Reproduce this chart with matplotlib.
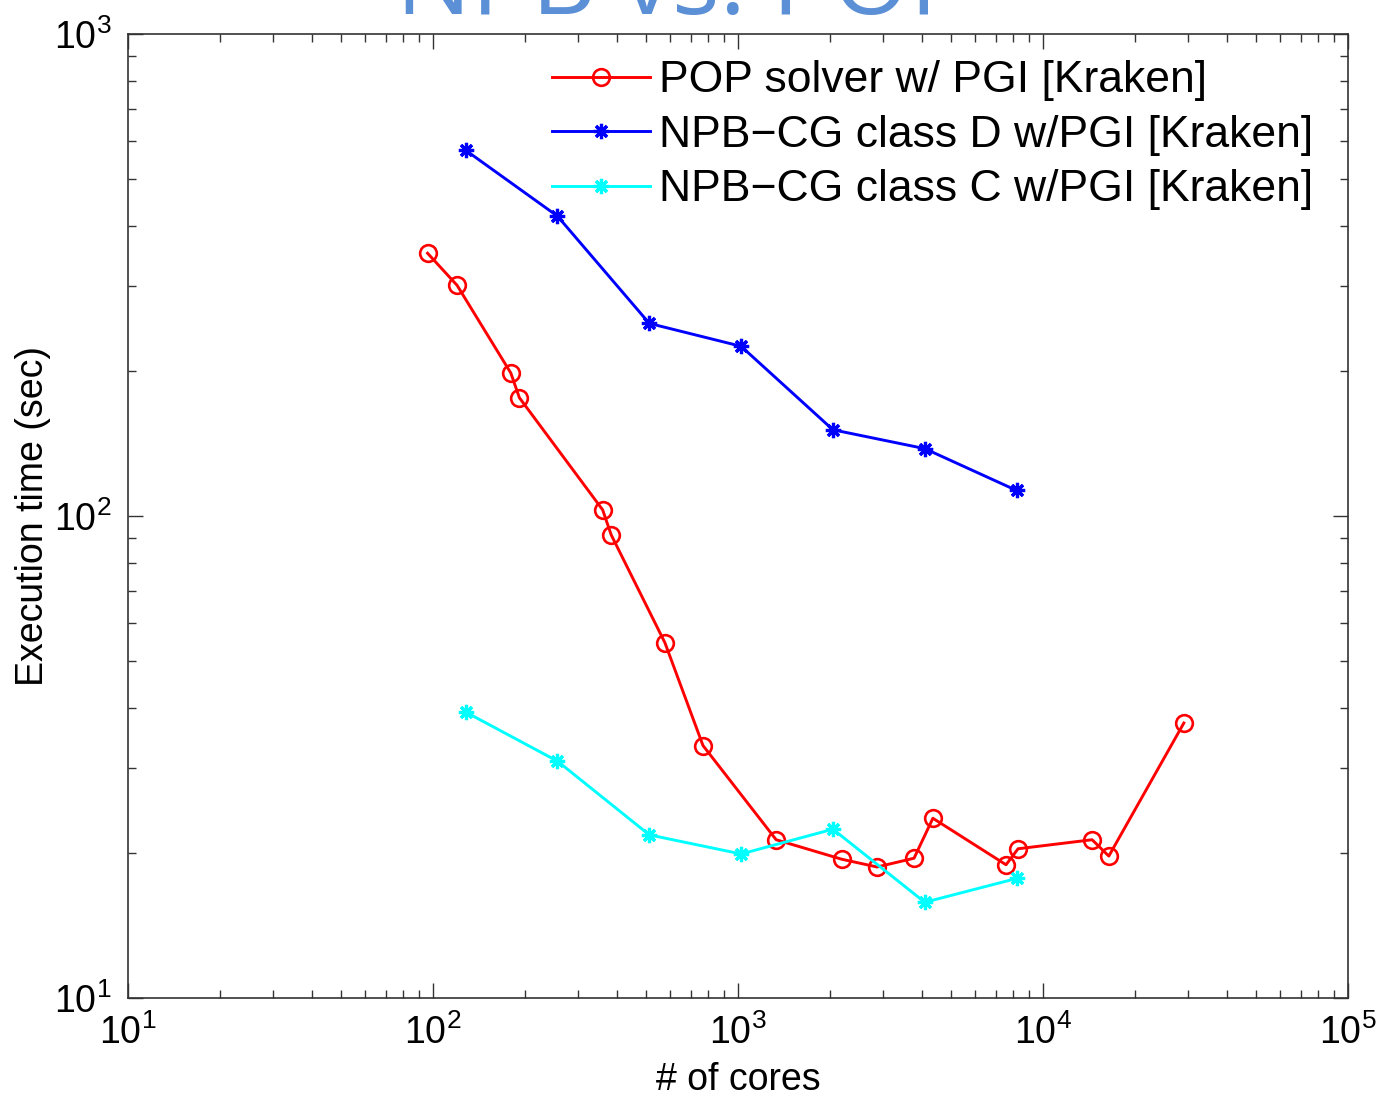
import matplotlib
matplotlib.use("Agg")
import matplotlib.pyplot as plt
from matplotlib.ticker import LogLocator, NullFormatter

pop_cores = [96, 120, 180, 192, 360, 384, 576, 768, 1334, 2193, 2858, 3778, 4356, 7566, 8284, 14490, 16440, 28970]
pop_time = [351, 301, 198, 176, 103, 91.4, 54.6, 33.4, 21.3, 19.4, 18.7, 19.5, 23.6, 18.9, 20.4, 21.3, 19.7, 37.2]

npb_cores = [128, 256, 512, 1024, 2048, 4096, 8192]
npb_d_time = [574, 419, 251, 225, 151, 138, 113]
npb_c_time = [39.2, 31.0, 21.8, 19.9, 22.4, 15.8, 17.7]

labels = ["POP solver w/ PGI [Kraken]",
          "NPB\u2212CG class D w/PGI [Kraken]",
          "NPB\u2212CG class C w/PGI [Kraken]"]
title = "NPB vs. POP"

plt.rcParams['font.family'] = ['Liberation Sans', 'DejaVu Sans']

fig = plt.figure(figsize=(13.79, 10.99), dpi=100)
ax = fig.add_axes([0.0928, 0.0919, 0.9775 - 0.0928, 0.969 - 0.0919])

ax.plot(pop_cores, pop_time, color='red', marker='o', mfc='none', mec='red',
        markersize=12, mew=1.9, lw=2.1, label=labels[0], zorder=6)
ax.plot(npb_cores, npb_d_time, color='blue', marker=(8, 2, 0), mfc='blue', mec='blue',
        markersize=11, mew=2.3, lw=2.1, label=labels[1], zorder=6)
ax.plot(npb_cores, npb_c_time, color='cyan', marker=(8, 2, 0), mfc='cyan', mec='cyan',
        markersize=11, mew=2.3, lw=2.1, label=labels[2], zorder=6)

ax.set_xscale('log')
ax.set_yscale('log')
ax.set_xlim(10, 1e5)
ax.set_ylim(10, 1000)

ax.xaxis.set_major_locator(LogLocator(base=10, numticks=10))
ax.yaxis.set_major_locator(LogLocator(base=10, numticks=10))
ax.xaxis.set_minor_locator(LogLocator(base=10, subs=range(2, 10), numticks=20))
ax.yaxis.set_minor_locator(LogLocator(base=10, subs=range(2, 10), numticks=20))
ax.xaxis.set_minor_formatter(NullFormatter())
ax.yaxis.set_minor_formatter(NullFormatter())

ax.tick_params(which='both', direction='in', top=True, right=True, labelsize=27, width=1.0, color='#333333')
ax.tick_params(which='major', length=11, pad=12)
ax.tick_params(which='minor', length=6)
for s in ax.spines.values():
    s.set_linewidth(1.2)
    s.set_color('#333333')

ax.set_xlabel("# of cores", fontsize=27)
ax.set_ylabel("Execution time (sec)", fontsize=27)
ax.xaxis.set_label_coords(0.5, -(1080 - 998) / 964)
ax.xaxis.label.set_va('center')
ax.yaxis.set_label_coords(-(128 - 33) / 1220, 0.5)
ax.yaxis.label.set_va('center')

leg = ax.legend(loc='upper left', bbox_to_anchor=(0.397, 0.949), bbox_transform=fig.transFigure,
                fontsize=32, frameon=True, handlelength=2.2, handletextpad=0.22,
                labelspacing=0.3, borderpad=0.1, borderaxespad=0.0, fancybox=False)
leg.get_frame().set_edgecolor('none')
leg.get_frame().set_facecolor('white')
leg.get_frame().set_alpha(1.0)
leg.set_clip_on(False)

fig.text(0.495, 1.0 - 14 / 1099, title, ha='center', va='baseline', fontsize=72,
         color='#5b8fd6', family=['Open Sans', 'DejaVu Sans'])

fig.savefig("out.png", dpi=100)
